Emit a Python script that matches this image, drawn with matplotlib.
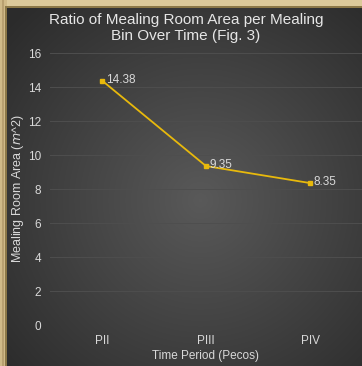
import numpy as np
import matplotlib.pyplot as plt
from matplotlib.patches import Rectangle

plt.rcParams['font.family'] = ['Liberation Sans', 'DejaVu Sans']

periods = ["PII", "PIII", "PIV"]
ratio = [14.38, 9.35, 8.35]
labels = ["14.38", "9.35", "8.35"]

W, H = 362, 366
fig = plt.figure(figsize=(W / 100, H / 100), dpi=100)

# radial gradient background
bg = fig.add_axes([0, 0, 1, 1], zorder=0)
yy, xx = np.mgrid[0:H, 0:W]
r = np.hypot((xx - 200) / 260.0, (yy - 200) / 260.0)
val = 0.35 - 0.18 * np.clip(r, 0, 1)
img = np.dstack([val, val, val])
bg.imshow(img, extent=[0, W, H, 0], aspect="auto")
bg.set_xlim(0, W)
bg.set_ylim(H, 0)
bg.axis("off")

# wooden frame (top and left)
bg.add_patch(Rectangle((0, 0), W, 7, color="#dcc99a", lw=0))
bg.add_patch(Rectangle((0, 0), 7, H, color="#d0ba88", lw=0))
bg.add_patch(Rectangle((2, 0), 1.5, H, color="#b8a070", lw=0))
bg.add_patch(Rectangle((5, 6), 2, H, color="#8c7848", lw=0))
bg.add_patch(Rectangle((5, 6), W, 2, color="#8c7848", lw=0))

ax = fig.add_axes([50 / W, 41 / H, 312 / W, 272 / H], zorder=1)
ax.patch.set_alpha(0)
x = np.arange(len(periods))
ax.plot(x, ratio, color="#e8b90c", lw=1.3, marker="s", ms=2.5)
for xi, yi, t in zip(x, ratio, labels):
    ax.text(xi + 0.035, yi + 0.05, t, color="#d9d9d9", fontsize=8.5, va="center", ha="left")

ax.set_xlim(-0.5, 2.5)
ax.set_ylim(0, 16)
ax.set_yticks(range(0, 17, 2))
ax.set_xticks(x)
ax.set_xticklabels(periods)
ax.tick_params(colors="#d9d9d9", labelsize=8.5, length=0)
ax.tick_params(axis="y", pad=6.5)
ax.tick_params(axis="x", pad=7)
ax.grid(axis="y", color="#4e4e4e", lw=0.7)
ax.set_axisbelow(True)
for s in ax.spines.values():
    s.set_visible(False)

ax.set_xlabel("Time Period (Pecos)", color="#d9d9d9", fontsize=8.5, labelpad=2)
ax.set_ylabel("Mealing Room Area ($m$^2)", color="#d9d9d9", fontsize=9)
ax.yaxis.set_label_coords(-23.5 / 312, 0.5)
fig.text(186 / W, 1 - 28 / H, "Ratio of Mealing Room Area per Mealing\nBin Over Time (Fig. 3)",
         color="#e6e6e6", fontsize=11, ha="center", va="center", linespacing=1.2)

fig.savefig("out.png", dpi=100)
